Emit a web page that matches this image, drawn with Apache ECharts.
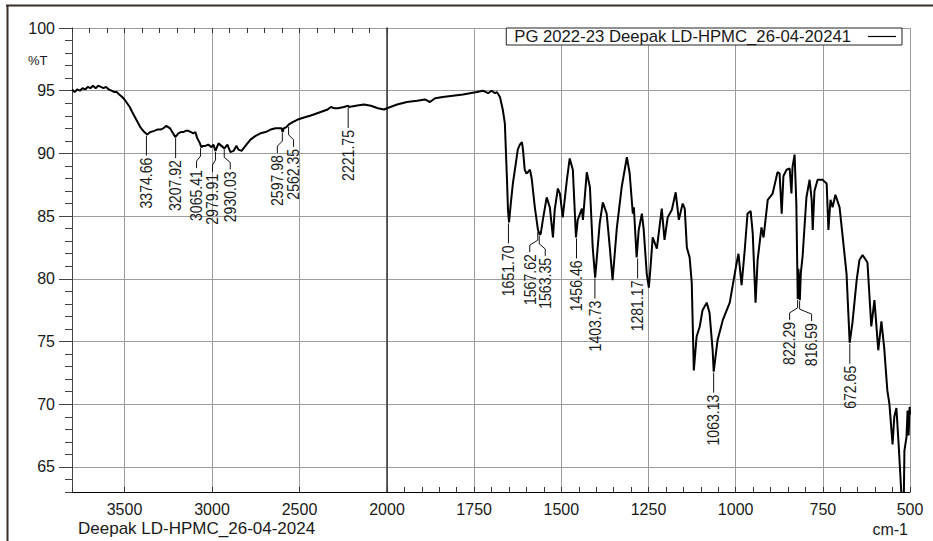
<!DOCTYPE html>
<html>
<head>
<meta charset="utf-8">
<script src="https://cdn.jsdelivr.net/npm/echarts@6/dist/echarts.min.js"></script>
<style>
html,body{margin:0;padding:0;background:#fff;}
#chart{width:933px;height:541px;}
</style>
</head>
<body>
<div id="chart"></div>
<script>
// ---------------- DATA ----------------
const seriesName = 'PG 2022-23 Deepak LD-HPMC_26-04-20241';
// 3800 - 2000 cm-1 (compressed part of the axis)
const wnHigh = [3800,3785,3770,3755,3740,3725,3710,3695,3680,3665,3650,3635,3620,3605,3590,3575,3560,3545,3530,3513,3500,3485,3470,3456,3433,3410,3387,3370,3353,3330,3313,3295,3278,3261,3250,3240,3227,3210,3192,3178,3164,3150,3135,3120,3107,3095,3084,3072,3061,3050,3038,3021,3003,2992,2980,2963,2946,2929,2912,2895,2877,2860,2849,2831,2809,2780,2751,2723,2694,2665,2637,2615,2602,2597,2590,2575,2562,2539,2510,2465,2440,2419,2379,2339,2321,2300,2281,2247,2222,2218,2178,2132,2092,2052,2017,2000];
const tHigh = [95.1,94.9,95.1,95.0,95.2,95.1,95.3,95.2,95.4,95.2,95.4,95.3,95.2,95.3,95.1,95.0,94.9,94.9,94.7,94.5,94.3,94.0,93.7,93.3,92.7,92.1,91.7,91.5,91.7,91.8,91.9,91.9,92.0,92.2,92.1,92.0,91.7,91.3,91.6,91.7,91.7,91.8,91.8,91.7,91.6,91.7,91.2,90.9,90.5,90.6,90.6,90.7,90.5,90.7,90.2,90.8,90.6,90.4,90.7,90.1,90.2,90.6,90.3,90.2,90.6,91.1,91.4,91.6,91.7,91.9,92.0,92.0,92.0,91.7,92.0,92.1,92.3,92.5,92.7,92.9,93.0,93.1,93.3,93.5,93.7,93.6,93.6,93.7,93.8,93.7,93.8,93.9,93.8,93.6,93.5,93.6];
// 2000 - 500 cm-1
const wnLow = [2000,1971,1943,1914,1891,1877,1862,1840,1811,1782,1762,1742,1725,1710,1700,1690,1685,1676,1668,1662,1656,1653,1650,1645,1639,1630,1625,1619,1613,1610,1605,1600,1596,1590,1585,1576,1567,1562,1559,1553,1542,1533,1524,1519,1510,1504,1496,1484,1476,1467,1458,1453,1441,1438,1427,1418,1410,1403,1390,1381,1370,1361,1353,1341,1327,1312,1304,1295,1292,1284,1278,1269,1264,1255,1249,1244,1238,1226,1212,1204,1195,1183,1172,1163,1152,1146,1140,1132,1126,1120,1112,1103,1095,1083,1075,1066,1063,1052,1037,1017,997,992,983,974,966,957,951,943,937,926,920,908,894,880,874,868,863,854,845,840,837,831,826,822,820,818,816,813,808,797,788,782,779,774,765,751,739,734,728,722,714,702,694,682,673,665,653,645,636,622,611,602,591,582,574,565,559,550,545,539,533,527,522,518,516,510,507,504,501,500];
const tLow = [93.6,93.9,94.1,94.2,94.3,94.1,94.4,94.5,94.6,94.7,94.8,94.9,95.0,94.8,95.0,94.8,94.9,94.5,93.5,92.4,88.0,85.5,84.5,86.0,87.6,89.3,90.3,90.7,90.9,90.3,88.7,88.4,88.5,88.7,88.0,85.7,83.9,83.5,83.6,84.7,86.5,85.7,83.3,85.5,87.2,86.8,84.9,87.9,89.6,88.7,83.3,84.7,85.6,84.7,88.5,87.3,82.5,80.1,84.4,86.1,85.2,82.5,79.9,84.0,87.3,89.7,88.4,85.2,85.7,81.7,83.9,85.2,84.0,80.4,79.3,81.0,83.3,82.4,85.6,83.1,84.9,85.5,86.9,84.7,86.0,85.6,82.5,81.7,79.7,72.7,75.4,76.2,77.5,78.1,77.3,74.3,72.6,75.1,76.7,78.1,81.3,82.0,79.5,82.3,85.2,85.4,83.6,78.1,81.5,84.1,83.3,86.3,86.8,88.5,88.4,85.2,88.2,88.7,88.8,86.8,88.9,89.9,86.0,78.4,80.8,79.8,78.3,80.5,81.8,86.5,87.9,86.3,83.9,87.0,87.9,87.9,87.6,83.9,86.3,85.7,86.7,85.7,83.6,80.4,74.9,76.5,79.9,81.5,81.9,81.3,76.2,78.3,74.3,76.6,74.5,71.1,70.0,66.8,69.0,69.7,67.0,64.0,61.5,62.0,66.3,67.4,69.5,67.5,69.8,69.2];
// labelled peaks
const peakWnHigh = [3374.66,3207.92,3065.41,2979.91,2930.03,2597.98,2562.35,2221.75];
const peakTHigh  = [91.5,91.3,90.5,90.2,90.4,91.7,92.2,93.7];
const peakWnLow  = [1651.70,1567.62,1563.35,1456.46,1403.73,1281.17,1063.13,822.29,816.59,672.65];
const peakTLow   = [84.5,83.8,83.5,83.3,80.1,81.7,72.6,78.4,78.3,74.9];
// tick labels
const yTickValues = [65,70,75,80,85,90,95,100];
const yMinorValues = [63,64,65,66,67,68,69,70,71,72,73,74,75,76,77,78,79,80,81,82,83,84,85,86,87,88,89,90,91,92,93,94,95,96,97,98,99,100];
const xLabelsHigh = [2500,3000,3500];
const xLabelsLow = [500,750,1000,1250,1500,1750,2000];

// ---------------- LAYOUT / STYLE ----------------
const FONT = "'Liberation Sans', Arial, Helvetica, sans-serif";
const GRID_COLOR = '#9c9c9c';
const TXT = '#1a1a1a';
const LEADER_GAP = 20;
const peakShift = {'3065.41':-4,'2979.91':-3,'2930.03':6,'2597.98':-5,'2562.35':5,'1567.62':-8,'1563.35':6,'822.29':-8,'816.59':12};

const zip = (a, b) => a.map((v, i) => [v, b[i]]);

function renderPeak(params, api) {
  const w = api.value(0), t = api.value(1);
  const p = api.coord([w, t]);
  const txt = w.toFixed(2);
  const dx = peakShift[txt] || 0;
  const x0 = p[0], y0 = p[1] + 1;
  const yTop = y0 + LEADER_GAP;
  const lx = x0 + dx;
  const pts = dx === 0 ? [[x0, y0], [x0, yTop]] : [[x0, y0], [x0, y0 + 8], [lx, y0 + 13], [lx, yTop]];
  return {
    type: 'group',
    children: [
      {type: 'polyline', shape: {points: pts}, style: {stroke: '#111', lineWidth: 1, fill: null}},
      {type: 'text', x: lx, y: yTop + 2, rotation: Math.PI / 2, scaleX: 0.88,
       style: {text: txt, align: 'right', verticalAlign: 'middle', fontSize: 16, fontFamily: FONT, fill: TXT}}
    ]
  };
}

const chart = echarts.init(document.getElementById('chart'), null, {renderer: 'svg'});

const xLabelStyle = {fontSize: 16, lineHeight: 14, color: TXT, fontFamily: FONT, margin: 10};

const option = {
  backgroundColor: '#fff',
  animation: false,
  grid: [
    {left: 72, top: 28, width: 315, height: 464},
    {left: 387, top: 28, width: 523, height: 464}
  ],
  legend: {
    data: [{name: seriesName, icon: 'rect'}],
    right: 31, top: 28,
    align: 'right',
    padding: [0, 6, 0, 8],
    itemWidth: 28, itemHeight: 1.2,
    borderColor: '#222', borderWidth: 1,
    backgroundColor: '#fff',
    itemStyle: {color: '#000', borderWidth: 0},
    lineStyle: {width: 0},
    textStyle: {fontSize: 16.7, color: TXT, fontFamily: FONT, lineHeight: 14, padding: [0, 12, 0, 0]}
  },
  xAxis: [
    { gridIndex: 0, type: 'value', inverse: true, min: 2000, max: 3800, interval: 500,
      axisLine: {show: true, onZero: false, lineStyle: {color: '#000', width: 1}},
      axisTick: {show: true, inside: true, length: 5, lineStyle: {color: '#333'}},
      axisLabel: Object.assign({}, xLabelStyle, {formatter: v => xLabelsHigh.indexOf(v) >= 0 ? String(v) : ''}),
      splitLine: {show: true, lineStyle: {color: GRID_COLOR, width: 1}}
    },
    { gridIndex: 1, type: 'value', inverse: true, min: 500, max: 2000, interval: 250,
      axisLine: {show: true, onZero: false, lineStyle: {color: '#000', width: 1}},
      axisTick: {show: true, inside: true, length: 5, lineStyle: {color: '#333'}},
      minorTick: {show: true, splitNumber: 5, length: 5, lineStyle: {color: '#333'}},
      axisLabel: Object.assign({}, xLabelStyle, {formatter: v => xLabelsLow.indexOf(v) >= 0 ? String(v) : ''}),
      splitLine: {show: true, lineStyle: {color: GRID_COLOR, width: 1}}
    },
    { gridIndex: 0, type: 'value', inverse: true, min: 2000, max: 3800, interval: 100,
      axisLine: {show: false},
      axisTick: {show: true, inside: true, length: 5, lineStyle: {color: '#333'}},
      axisLabel: {show: false}, splitLine: {show: false}
    }
  ],
  yAxis: [
    { gridIndex: 0, type: 'value', min: 63, max: 100, position: 'left',
      axisLine: {show: true, onZero: false, lineStyle: {color: '#444', width: 1}},
      axisTick: {show: true, inside: false, length: 13, customValues: yTickValues, lineStyle: {color: '#444'}},
      axisLabel: {customValues: yTickValues, margin: 17, fontSize: 16, color: TXT, fontFamily: FONT},
      splitLine: {show: true, lineStyle: {color: GRID_COLOR, width: 1}}
    },
    { gridIndex: 0, type: 'value', min: 63, max: 100, position: 'left',
      axisLine: {show: false},
      axisTick: {show: true, inside: false, length: 7, customValues: yMinorValues, lineStyle: {color: '#444'}},
      axisLabel: {show: false}, splitLine: {show: false}
    },
    { gridIndex: 1, type: 'value', min: 63, max: 100, position: 'left',
      axisLine: {show: true, onZero: false, lineStyle: {color: '#333', width: 1.5}},
      axisTick: {show: false, customValues: yTickValues},
      axisLabel: {show: false, customValues: yTickValues},
      splitLine: {show: true, lineStyle: {color: GRID_COLOR, width: 1}}
    }
  ],
  series: [
    { name: seriesName, type: 'line', xAxisIndex: 0, yAxisIndex: 0, data: zip(wnHigh, tHigh),
      showSymbol: false, symbol: 'none', lineStyle: {color: '#000', width: 2}, itemStyle: {color: '#000'}, z: 3 },
    { name: seriesName, type: 'line', xAxisIndex: 1, yAxisIndex: 2, data: zip(wnLow, tLow),
      showSymbol: false, symbol: 'none', lineStyle: {color: '#000', width: 2}, itemStyle: {color: '#000'}, z: 3 },
    { type: 'custom', xAxisIndex: 0, yAxisIndex: 0, data: zip(peakWnHigh, peakTHigh), renderItem: renderPeak, clip: false, z: 4 },
    { type: 'custom', xAxisIndex: 1, yAxisIndex: 2, data: zip(peakWnLow, peakTLow), renderItem: renderPeak, clip: false, z: 4 }
  ],
  graphic: [
    {type: 'line', shape: {x1: 6, y1: 5.5, x2: 933, y2: 5.5}, style: {stroke: '#3a2e26', lineWidth: 2}},
    {type: 'line', shape: {x1: 7.5, y1: 5, x2: 7.5, y2: 541}, style: {stroke: '#3a2e26', lineWidth: 2}},
    {type: 'text', left: 28, top: 54, style: {text: '%T', fontSize: 13, fontFamily: FONT, fill: TXT}},
    {type: 'text', left: 78, top: 520, style: {text: 'Deepak LD-HPMC_26-04-2024', fontSize: 17, lineHeight: 17, fontFamily: FONT, fill: TXT}},
    {type: 'text', right: 25, top: 521, style: {text: 'cm-1', fontSize: 16, lineHeight: 16, fontFamily: FONT, fill: TXT}}
  ]
};
chart.setOption(option);
</script>
</body>
</html>
